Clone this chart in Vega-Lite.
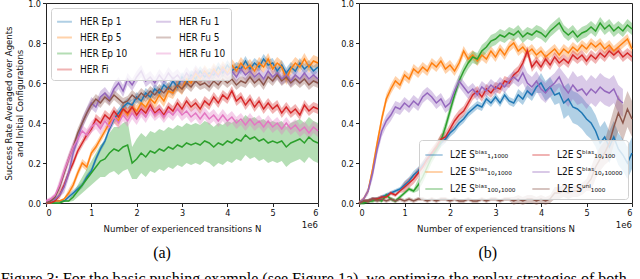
{
"$schema":"https://vega.github.io/schema/vega-lite/v6.json",
"padding":{"left":0,"top":-2,"right":0,"bottom":0},
"config":{
"font":"DejaVu Sans Condensed, DejaVu Sans",
"view":{"stroke":"#222","strokeWidth":1},
"axis":{"grid":false,"domain":false,"labelOverlap":false,"tickCount":12,"tickColor":"#222","tickSize":3.5,"labelColor":"#111","labelFontSize":9,"labelPadding":2,"titleColor":"#111","titleFontSize":9.5,"titleFontWeight":"normal"},
"legend":{"title":null,"symbolType":"stroke","symbolStrokeWidth":2,"labelFontSize":10,"labelColor":"#111","labelOffset":7,"padding":5,"strokeColor":"#d0d0d0","fillColor":"rgba(255,255,255,0.8)","cornerRadius":3,"columns":2,"labelLimit":300}
},
"title":{"text":"Figure 3:  For the basic pushing example (see Figure 1a), we optimize the replay strategies of both","orient":"bottom","anchor":"start","frame":"bounds","font":"Liberation Serif","fontSize":16,"fontWeight":"normal","offset":9,"dx":-2,"color":"black"},
"spacing":18,
"resolve":{"scale":{"color":"independent"},"legend":{"color":"independent"}},
"datasets":{
"a":[
{"s":"E1","x":0,"y":0,"e":0.005},{"s":"E1","x":0.1,"y":0,"e":0.005},{"s":"E1","x":0.2,"y":0.01,"e":0.005},{"s":"E1","x":0.3,"y":0.01,"e":0.005},{"s":"E1","x":0.4,"y":0.01,"e":0.005},{"s":"E1","x":0.5,"y":0.03,"e":0.015},{"s":"E1","x":0.6,"y":0.05,"e":0.015},{"s":"E1","x":0.7,"y":0.07,"e":0.015},{"s":"E1","x":0.8,"y":0.09,"e":0.015},{"s":"E1","x":0.9,"y":0.13,"e":0.015},{"s":"E1","x":1,"y":0.16,"e":0.015},{"s":"E1","x":1.1,"y":0.22,"e":0.015},{"s":"E1","x":1.2,"y":0.27,"e":0.015},{"s":"E1","x":1.3,"y":0.31,"e":0.015},{"s":"E1","x":1.4,"y":0.37,"e":0.015},{"s":"E1","x":1.5,"y":0.42,"e":0.025},{"s":"E1","x":1.6,"y":0.45,"e":0.025},{"s":"E1","x":1.7,"y":0.48,"e":0.025},{"s":"E1","x":1.8,"y":0.5,"e":0.025},{"s":"E1","x":1.9,"y":0.49,"e":0.025},{"s":"E1","x":2,"y":0.53,"e":0.025},{"s":"E1","x":2.1,"y":0.51,"e":0.025},{"s":"E1","x":2.2,"y":0.55,"e":0.025},{"s":"E1","x":2.3,"y":0.53,"e":0.025},{"s":"E1","x":2.4,"y":0.57,"e":0.025},{"s":"E1","x":2.5,"y":0.55,"e":0.025},{"s":"E1","x":2.6,"y":0.59,"e":0.025},{"s":"E1","x":2.7,"y":0.57,"e":0.025},{"s":"E1","x":2.8,"y":0.61,"e":0.025},{"s":"E1","x":2.9,"y":0.58,"e":0.025},{"s":"E1","x":3,"y":0.63,"e":0.025},{"s":"E1","x":3.1,"y":0.6,"e":0.025},{"s":"E1","x":3.2,"y":0.64,"e":0.025},{"s":"E1","x":3.3,"y":0.62,"e":0.025},{"s":"E1","x":3.4,"y":0.66,"e":0.025},{"s":"E1","x":3.5,"y":0.63,"e":0.025},{"s":"E1","x":3.6,"y":0.65,"e":0.025},{"s":"E1","x":3.7,"y":0.64,"e":0.025},{"s":"E1","x":3.8,"y":0.68,"e":0.025},{"s":"E1","x":3.9,"y":0.65,"e":0.025},{"s":"E1","x":4,"y":0.69,"e":0.025},{"s":"E1","x":4.1,"y":0.66,"e":0.025},{"s":"E1","x":4.2,"y":0.68,"e":0.025},{"s":"E1","x":4.3,"y":0.67,"e":0.025},{"s":"E1","x":4.4,"y":0.71,"e":0.025},{"s":"E1","x":4.5,"y":0.67,"e":0.025},{"s":"E1","x":4.6,"y":0.7,"e":0.025},{"s":"E1","x":4.7,"y":0.68,"e":0.025},{"s":"E1","x":4.8,"y":0.72,"e":0.025},{"s":"E1","x":4.9,"y":0.69,"e":0.025},{"s":"E1","x":5,"y":0.7,"e":0.025},{"s":"E1","x":5.1,"y":0.66,"e":0.025},{"s":"E1","x":5.2,"y":0.69,"e":0.025},{"s":"E1","x":5.3,"y":0.65,"e":0.025},{"s":"E1","x":5.4,"y":0.68,"e":0.025},{"s":"E1","x":5.5,"y":0.66,"e":0.025},{"s":"E1","x":5.6,"y":0.7,"e":0.025},{"s":"E1","x":5.7,"y":0.67,"e":0.025},{"s":"E1","x":5.8,"y":0.69,"e":0.025},{"s":"E1","x":5.9,"y":0.66,"e":0.025},{"s":"E1","x":6,"y":0.68,"e":0.025},
{"s":"E5","x":0,"y":0,"e":0.005},{"s":"E5","x":0.1,"y":0,"e":0.005},{"s":"E5","x":0.2,"y":0.01,"e":0.005},{"s":"E5","x":0.3,"y":0.01,"e":0.005},{"s":"E5","x":0.4,"y":0.02,"e":0.005},{"s":"E5","x":0.5,"y":0.05,"e":0.02},{"s":"E5","x":0.6,"y":0.09,"e":0.02},{"s":"E5","x":0.7,"y":0.15,"e":0.02},{"s":"E5","x":0.8,"y":0.2,"e":0.02},{"s":"E5","x":0.9,"y":0.18,"e":0.02},{"s":"E5","x":1,"y":0.25,"e":0.02},{"s":"E5","x":1.1,"y":0.28,"e":0.02},{"s":"E5","x":1.2,"y":0.32,"e":0.02},{"s":"E5","x":1.3,"y":0.36,"e":0.02},{"s":"E5","x":1.4,"y":0.4,"e":0.02},{"s":"E5","x":1.5,"y":0.43,"e":0.03},{"s":"E5","x":1.6,"y":0.41,"e":0.03},{"s":"E5","x":1.7,"y":0.47,"e":0.03},{"s":"E5","x":1.8,"y":0.44,"e":0.03},{"s":"E5","x":1.9,"y":0.48,"e":0.03},{"s":"E5","x":2,"y":0.46,"e":0.03},{"s":"E5","x":2.1,"y":0.5,"e":0.03},{"s":"E5","x":2.2,"y":0.48,"e":0.03},{"s":"E5","x":2.3,"y":0.52,"e":0.03},{"s":"E5","x":2.4,"y":0.5,"e":0.03},{"s":"E5","x":2.5,"y":0.54,"e":0.03},{"s":"E5","x":2.6,"y":0.51,"e":0.03},{"s":"E5","x":2.7,"y":0.56,"e":0.03},{"s":"E5","x":2.8,"y":0.55,"e":0.03},{"s":"E5","x":2.9,"y":0.59,"e":0.03},{"s":"E5","x":3,"y":0.57,"e":0.03},{"s":"E5","x":3.1,"y":0.62,"e":0.03},{"s":"E5","x":3.2,"y":0.6,"e":0.03},{"s":"E5","x":3.3,"y":0.65,"e":0.03},{"s":"E5","x":3.4,"y":0.62,"e":0.03},{"s":"E5","x":3.5,"y":0.66,"e":0.03},{"s":"E5","x":3.6,"y":0.63,"e":0.03},{"s":"E5","x":3.7,"y":0.67,"e":0.03},{"s":"E5","x":3.8,"y":0.64,"e":0.03},{"s":"E5","x":3.9,"y":0.68,"e":0.03},{"s":"E5","x":4,"y":0.65,"e":0.03},{"s":"E5","x":4.1,"y":0.69,"e":0.03},{"s":"E5","x":4.2,"y":0.66,"e":0.03},{"s":"E5","x":4.3,"y":0.7,"e":0.03},{"s":"E5","x":4.4,"y":0.67,"e":0.03},{"s":"E5","x":4.5,"y":0.69,"e":0.03},{"s":"E5","x":4.6,"y":0.66,"e":0.03},{"s":"E5","x":4.7,"y":0.7,"e":0.03},{"s":"E5","x":4.8,"y":0.68,"e":0.03},{"s":"E5","x":4.9,"y":0.72,"e":0.03},{"s":"E5","x":5,"y":0.67,"e":0.03},{"s":"E5","x":5.1,"y":0.7,"e":0.03},{"s":"E5","x":5.2,"y":0.68,"e":0.03},{"s":"E5","x":5.3,"y":0.62,"e":0.03},{"s":"E5","x":5.4,"y":0.67,"e":0.03},{"s":"E5","x":5.5,"y":0.7,"e":0.03},{"s":"E5","x":5.6,"y":0.68,"e":0.03},{"s":"E5","x":5.7,"y":0.72,"e":0.03},{"s":"E5","x":5.8,"y":0.68,"e":0.03},{"s":"E5","x":5.9,"y":0.71,"e":0.03},{"s":"E5","x":6,"y":0.7,"e":0.03},
{"s":"E10","x":0,"y":0,"e":0.005},{"s":"E10","x":0.1,"y":0,"e":0.005},{"s":"E10","x":0.2,"y":0,"e":0.005},{"s":"E10","x":0.3,"y":0,"e":0.005},{"s":"E10","x":0.4,"y":0.01,"e":0.005},{"s":"E10","x":0.5,"y":0.01,"e":0.005},{"s":"E10","x":0.6,"y":0.03,"e":0.02},{"s":"E10","x":0.7,"y":0.06,"e":0.03},{"s":"E10","x":0.8,"y":0.09,"e":0.04},{"s":"E10","x":0.9,"y":0.12,"e":0.05},{"s":"E10","x":1,"y":0.15,"e":0.06},{"s":"E10","x":1.1,"y":0.18,"e":0.07},{"s":"E10","x":1.2,"y":0.21,"e":0.08},{"s":"E10","x":1.3,"y":0.22,"e":0.09},{"s":"E10","x":1.4,"y":0.25,"e":0.1},{"s":"E10","x":1.5,"y":0.27,"e":0.11},{"s":"E10","x":1.6,"y":0.26,"e":0.12},{"s":"E10","x":1.7,"y":0.28,"e":0.12},{"s":"E10","x":1.8,"y":0.29,"e":0.12},{"s":"E10","x":1.9,"y":0.2,"e":0.08},{"s":"E10","x":2,"y":0.22,"e":0.1},{"s":"E10","x":2.1,"y":0.25,"e":0.1},{"s":"E10","x":2.2,"y":0.23,"e":0.1},{"s":"E10","x":2.3,"y":0.26,"e":0.1},{"s":"E10","x":2.4,"y":0.25,"e":0.1},{"s":"E10","x":2.5,"y":0.27,"e":0.1},{"s":"E10","x":2.6,"y":0.26,"e":0.1},{"s":"E10","x":2.7,"y":0.28,"e":0.1},{"s":"E10","x":2.8,"y":0.27,"e":0.1},{"s":"E10","x":2.9,"y":0.29,"e":0.1},{"s":"E10","x":3,"y":0.28,"e":0.1},{"s":"E10","x":3.1,"y":0.3,"e":0.1},{"s":"E10","x":3.2,"y":0.29,"e":0.1},{"s":"E10","x":3.3,"y":0.3,"e":0.1},{"s":"E10","x":3.4,"y":0.29,"e":0.1},{"s":"E10","x":3.5,"y":0.31,"e":0.1},{"s":"E10","x":3.6,"y":0.3,"e":0.1},{"s":"E10","x":3.7,"y":0.28,"e":0.1},{"s":"E10","x":3.8,"y":0.3,"e":0.1},{"s":"E10","x":3.9,"y":0.29,"e":0.1},{"s":"E10","x":4,"y":0.31,"e":0.1},{"s":"E10","x":4.1,"y":0.3,"e":0.1},{"s":"E10","x":4.2,"y":0.32,"e":0.1},{"s":"E10","x":4.3,"y":0.31,"e":0.1},{"s":"E10","x":4.4,"y":0.34,"e":0.1},{"s":"E10","x":4.5,"y":0.32,"e":0.1},{"s":"E10","x":4.6,"y":0.33,"e":0.1},{"s":"E10","x":4.7,"y":0.31,"e":0.1},{"s":"E10","x":4.8,"y":0.32,"e":0.1},{"s":"E10","x":4.9,"y":0.3,"e":0.1},{"s":"E10","x":5,"y":0.31,"e":0.1},{"s":"E10","x":5.1,"y":0.3,"e":0.1},{"s":"E10","x":5.2,"y":0.31,"e":0.1},{"s":"E10","x":5.3,"y":0.28,"e":0.1},{"s":"E10","x":5.4,"y":0.3,"e":0.1},{"s":"E10","x":5.5,"y":0.31,"e":0.1},{"s":"E10","x":5.6,"y":0.32,"e":0.1},{"s":"E10","x":5.7,"y":0.3,"e":0.1},{"s":"E10","x":5.8,"y":0.33,"e":0.1},{"s":"E10","x":5.9,"y":0.31,"e":0.1},{"s":"E10","x":6,"y":0.3,"e":0.1},
{"s":"Fi","x":0,"y":0,"e":0.005},{"s":"Fi","x":0.1,"y":0,"e":0.005},{"s":"Fi","x":0.2,"y":0.01,"e":0.005},{"s":"Fi","x":0.3,"y":0.04,"e":0.02},{"s":"Fi","x":0.4,"y":0.09,"e":0.02},{"s":"Fi","x":0.5,"y":0.15,"e":0.02},{"s":"Fi","x":0.6,"y":0.2,"e":0.02},{"s":"Fi","x":0.7,"y":0.26,"e":0.02},{"s":"Fi","x":0.8,"y":0.3,"e":0.02},{"s":"Fi","x":0.9,"y":0.34,"e":0.02},{"s":"Fi","x":1,"y":0.37,"e":0.02},{"s":"Fi","x":1.1,"y":0.42,"e":0.025},{"s":"Fi","x":1.2,"y":0.4,"e":0.025},{"s":"Fi","x":1.3,"y":0.44,"e":0.025},{"s":"Fi","x":1.4,"y":0.42,"e":0.025},{"s":"Fi","x":1.5,"y":0.46,"e":0.025},{"s":"Fi","x":1.6,"y":0.43,"e":0.025},{"s":"Fi","x":1.7,"y":0.47,"e":0.025},{"s":"Fi","x":1.8,"y":0.45,"e":0.025},{"s":"Fi","x":1.9,"y":0.48,"e":0.025},{"s":"Fi","x":2,"y":0.44,"e":0.025},{"s":"Fi","x":2.1,"y":0.47,"e":0.025},{"s":"Fi","x":2.2,"y":0.45,"e":0.025},{"s":"Fi","x":2.3,"y":0.49,"e":0.025},{"s":"Fi","x":2.4,"y":0.45,"e":0.025},{"s":"Fi","x":2.5,"y":0.47,"e":0.025},{"s":"Fi","x":2.6,"y":0.44,"e":0.025},{"s":"Fi","x":2.7,"y":0.48,"e":0.025},{"s":"Fi","x":2.8,"y":0.46,"e":0.025},{"s":"Fi","x":2.9,"y":0.5,"e":0.025},{"s":"Fi","x":3,"y":0.47,"e":0.025},{"s":"Fi","x":3.1,"y":0.51,"e":0.025},{"s":"Fi","x":3.2,"y":0.48,"e":0.025},{"s":"Fi","x":3.3,"y":0.5,"e":0.025},{"s":"Fi","x":3.4,"y":0.47,"e":0.025},{"s":"Fi","x":3.5,"y":0.51,"e":0.025},{"s":"Fi","x":3.6,"y":0.49,"e":0.025},{"s":"Fi","x":3.7,"y":0.53,"e":0.025},{"s":"Fi","x":3.8,"y":0.5,"e":0.025},{"s":"Fi","x":3.9,"y":0.54,"e":0.025},{"s":"Fi","x":4,"y":0.52,"e":0.025},{"s":"Fi","x":4.1,"y":0.56,"e":0.025},{"s":"Fi","x":4.2,"y":0.51,"e":0.025},{"s":"Fi","x":4.3,"y":0.53,"e":0.025},{"s":"Fi","x":4.4,"y":0.49,"e":0.025},{"s":"Fi","x":4.5,"y":0.52,"e":0.025},{"s":"Fi","x":4.6,"y":0.48,"e":0.025},{"s":"Fi","x":4.7,"y":0.51,"e":0.025},{"s":"Fi","x":4.8,"y":0.47,"e":0.025},{"s":"Fi","x":4.9,"y":0.5,"e":0.025},{"s":"Fi","x":5,"y":0.47,"e":0.025},{"s":"Fi","x":5.1,"y":0.49,"e":0.025},{"s":"Fi","x":5.2,"y":0.45,"e":0.025},{"s":"Fi","x":5.3,"y":0.48,"e":0.025},{"s":"Fi","x":5.4,"y":0.45,"e":0.025},{"s":"Fi","x":5.5,"y":0.47,"e":0.025},{"s":"Fi","x":5.6,"y":0.44,"e":0.025},{"s":"Fi","x":5.7,"y":0.49,"e":0.025},{"s":"Fi","x":5.8,"y":0.46,"e":0.025},{"s":"Fi","x":5.9,"y":0.48,"e":0.025},{"s":"Fi","x":6,"y":0.47,"e":0.025},
{"s":"F1","x":0,"y":0,"e":0.01},{"s":"F1","x":0.1,"y":0.01,"e":0.01},{"s":"F1","x":0.2,"y":0.02,"e":0.01},{"s":"F1","x":0.3,"y":0.04,"e":0.01},{"s":"F1","x":0.4,"y":0.08,"e":0.03},{"s":"F1","x":0.5,"y":0.15,"e":0.03},{"s":"F1","x":0.6,"y":0.25,"e":0.03},{"s":"F1","x":0.7,"y":0.32,"e":0.03},{"s":"F1","x":0.8,"y":0.4,"e":0.03},{"s":"F1","x":0.9,"y":0.45,"e":0.03},{"s":"F1","x":1,"y":0.5,"e":0.03},{"s":"F1","x":1.1,"y":0.48,"e":0.03},{"s":"F1","x":1.2,"y":0.53,"e":0.03},{"s":"F1","x":1.3,"y":0.55,"e":0.03},{"s":"F1","x":1.4,"y":0.52,"e":0.03},{"s":"F1","x":1.5,"y":0.57,"e":0.03},{"s":"F1","x":1.6,"y":0.6,"e":0.03},{"s":"F1","x":1.7,"y":0.56,"e":0.03},{"s":"F1","x":1.8,"y":0.62,"e":0.03},{"s":"F1","x":1.9,"y":0.59,"e":0.03},{"s":"F1","x":2,"y":0.63,"e":0.03},{"s":"F1","x":2.1,"y":0.66,"e":0.03},{"s":"F1","x":2.2,"y":0.61,"e":0.03},{"s":"F1","x":2.3,"y":0.63,"e":0.03},{"s":"F1","x":2.4,"y":0.6,"e":0.03},{"s":"F1","x":2.5,"y":0.64,"e":0.03},{"s":"F1","x":2.6,"y":0.61,"e":0.03},{"s":"F1","x":2.7,"y":0.65,"e":0.03},{"s":"F1","x":2.8,"y":0.62,"e":0.03},{"s":"F1","x":2.9,"y":0.64,"e":0.03},{"s":"F1","x":3,"y":0.61,"e":0.03},{"s":"F1","x":3.1,"y":0.65,"e":0.03},{"s":"F1","x":3.2,"y":0.62,"e":0.03},{"s":"F1","x":3.3,"y":0.66,"e":0.03},{"s":"F1","x":3.4,"y":0.63,"e":0.03},{"s":"F1","x":3.5,"y":0.65,"e":0.03},{"s":"F1","x":3.6,"y":0.62,"e":0.03},{"s":"F1","x":3.7,"y":0.66,"e":0.03},{"s":"F1","x":3.8,"y":0.63,"e":0.03},{"s":"F1","x":3.9,"y":0.67,"e":0.03},{"s":"F1","x":4,"y":0.64,"e":0.03},{"s":"F1","x":4.1,"y":0.66,"e":0.03},{"s":"F1","x":4.2,"y":0.63,"e":0.03},{"s":"F1","x":4.3,"y":0.67,"e":0.03},{"s":"F1","x":4.4,"y":0.64,"e":0.03},{"s":"F1","x":4.5,"y":0.66,"e":0.03},{"s":"F1","x":4.6,"y":0.63,"e":0.03},{"s":"F1","x":4.7,"y":0.65,"e":0.03},{"s":"F1","x":4.8,"y":0.62,"e":0.03},{"s":"F1","x":4.9,"y":0.66,"e":0.03},{"s":"F1","x":5,"y":0.63,"e":0.03},{"s":"F1","x":5.1,"y":0.65,"e":0.03},{"s":"F1","x":5.2,"y":0.62,"e":0.03},{"s":"F1","x":5.3,"y":0.64,"e":0.03},{"s":"F1","x":5.4,"y":0.61,"e":0.03},{"s":"F1","x":5.5,"y":0.64,"e":0.03},{"s":"F1","x":5.6,"y":0.62,"e":0.03},{"s":"F1","x":5.7,"y":0.65,"e":0.03},{"s":"F1","x":5.8,"y":0.62,"e":0.03},{"s":"F1","x":5.9,"y":0.64,"e":0.03},{"s":"F1","x":6,"y":0.62,"e":0.03},
{"s":"F5","x":0,"y":0,"e":0.01},{"s":"F5","x":0.1,"y":0.01,"e":0.01},{"s":"F5","x":0.2,"y":0.03,"e":0.01},{"s":"F5","x":0.3,"y":0.08,"e":0.025},{"s":"F5","x":0.4,"y":0.15,"e":0.025},{"s":"F5","x":0.5,"y":0.22,"e":0.025},{"s":"F5","x":0.6,"y":0.28,"e":0.025},{"s":"F5","x":0.7,"y":0.35,"e":0.025},{"s":"F5","x":0.8,"y":0.4,"e":0.025},{"s":"F5","x":0.9,"y":0.45,"e":0.025},{"s":"F5","x":1,"y":0.49,"e":0.025},{"s":"F5","x":1.1,"y":0.52,"e":0.025},{"s":"F5","x":1.2,"y":0.5,"e":0.025},{"s":"F5","x":1.3,"y":0.53,"e":0.025},{"s":"F5","x":1.4,"y":0.51,"e":0.025},{"s":"F5","x":1.5,"y":0.54,"e":0.025},{"s":"F5","x":1.6,"y":0.52,"e":0.025},{"s":"F5","x":1.7,"y":0.5,"e":0.025},{"s":"F5","x":1.8,"y":0.51,"e":0.025},{"s":"F5","x":1.9,"y":0.54,"e":0.025},{"s":"F5","x":2,"y":0.52,"e":0.025},{"s":"F5","x":2.1,"y":0.55,"e":0.025},{"s":"F5","x":2.2,"y":0.53,"e":0.025},{"s":"F5","x":2.3,"y":0.56,"e":0.025},{"s":"F5","x":2.4,"y":0.54,"e":0.025},{"s":"F5","x":2.5,"y":0.57,"e":0.025},{"s":"F5","x":2.6,"y":0.55,"e":0.025},{"s":"F5","x":2.7,"y":0.58,"e":0.025},{"s":"F5","x":2.8,"y":0.56,"e":0.025},{"s":"F5","x":2.9,"y":0.59,"e":0.025},{"s":"F5","x":3,"y":0.57,"e":0.025},{"s":"F5","x":3.1,"y":0.6,"e":0.025},{"s":"F5","x":3.2,"y":0.58,"e":0.025},{"s":"F5","x":3.3,"y":0.61,"e":0.025},{"s":"F5","x":3.4,"y":0.59,"e":0.025},{"s":"F5","x":3.5,"y":0.6,"e":0.025},{"s":"F5","x":3.6,"y":0.58,"e":0.025},{"s":"F5","x":3.7,"y":0.61,"e":0.025},{"s":"F5","x":3.8,"y":0.59,"e":0.025},{"s":"F5","x":3.9,"y":0.62,"e":0.025},{"s":"F5","x":4,"y":0.6,"e":0.025},{"s":"F5","x":4.1,"y":0.62,"e":0.025},{"s":"F5","x":4.2,"y":0.59,"e":0.025},{"s":"F5","x":4.3,"y":0.61,"e":0.025},{"s":"F5","x":4.4,"y":0.6,"e":0.025},{"s":"F5","x":4.5,"y":0.63,"e":0.025},{"s":"F5","x":4.6,"y":0.6,"e":0.025},{"s":"F5","x":4.7,"y":0.62,"e":0.025},{"s":"F5","x":4.8,"y":0.59,"e":0.025},{"s":"F5","x":4.9,"y":0.63,"e":0.025},{"s":"F5","x":5,"y":0.61,"e":0.025},{"s":"F5","x":5.1,"y":0.64,"e":0.025},{"s":"F5","x":5.2,"y":0.61,"e":0.025},{"s":"F5","x":5.3,"y":0.63,"e":0.025},{"s":"F5","x":5.4,"y":0.6,"e":0.025},{"s":"F5","x":5.5,"y":0.62,"e":0.025},{"s":"F5","x":5.6,"y":0.6,"e":0.025},{"s":"F5","x":5.7,"y":0.62,"e":0.025},{"s":"F5","x":5.8,"y":0.59,"e":0.025},{"s":"F5","x":5.9,"y":0.61,"e":0.025},{"s":"F5","x":6,"y":0.6,"e":0.025},
{"s":"F10","x":0,"y":0.01,"e":0.01},{"s":"F10","x":0.1,"y":0.02,"e":0.01},{"s":"F10","x":0.2,"y":0.04,"e":0.01},{"s":"F10","x":0.3,"y":0.09,"e":0.03},{"s":"F10","x":0.4,"y":0.16,"e":0.03},{"s":"F10","x":0.5,"y":0.22,"e":0.03},{"s":"F10","x":0.6,"y":0.28,"e":0.03},{"s":"F10","x":0.7,"y":0.32,"e":0.03},{"s":"F10","x":0.8,"y":0.36,"e":0.03},{"s":"F10","x":0.9,"y":0.34,"e":0.03},{"s":"F10","x":1,"y":0.38,"e":0.03},{"s":"F10","x":1.1,"y":0.4,"e":0.03},{"s":"F10","x":1.2,"y":0.37,"e":0.03},{"s":"F10","x":1.3,"y":0.41,"e":0.03},{"s":"F10","x":1.4,"y":0.38,"e":0.03},{"s":"F10","x":1.5,"y":0.43,"e":0.03},{"s":"F10","x":1.6,"y":0.4,"e":0.03},{"s":"F10","x":1.7,"y":0.44,"e":0.03},{"s":"F10","x":1.8,"y":0.41,"e":0.03},{"s":"F10","x":1.9,"y":0.45,"e":0.03},{"s":"F10","x":2,"y":0.42,"e":0.03},{"s":"F10","x":2.1,"y":0.46,"e":0.03},{"s":"F10","x":2.2,"y":0.43,"e":0.03},{"s":"F10","x":2.3,"y":0.47,"e":0.03},{"s":"F10","x":2.4,"y":0.44,"e":0.03},{"s":"F10","x":2.5,"y":0.46,"e":0.03},{"s":"F10","x":2.6,"y":0.43,"e":0.03},{"s":"F10","x":2.7,"y":0.46,"e":0.03},{"s":"F10","x":2.8,"y":0.44,"e":0.03},{"s":"F10","x":2.9,"y":0.47,"e":0.03},{"s":"F10","x":3,"y":0.44,"e":0.03},{"s":"F10","x":3.1,"y":0.46,"e":0.03},{"s":"F10","x":3.2,"y":0.43,"e":0.03},{"s":"F10","x":3.3,"y":0.45,"e":0.03},{"s":"F10","x":3.4,"y":0.42,"e":0.03},{"s":"F10","x":3.5,"y":0.45,"e":0.03},{"s":"F10","x":3.6,"y":0.42,"e":0.03},{"s":"F10","x":3.7,"y":0.44,"e":0.03},{"s":"F10","x":3.8,"y":0.41,"e":0.03},{"s":"F10","x":3.9,"y":0.44,"e":0.03},{"s":"F10","x":4,"y":0.41,"e":0.03},{"s":"F10","x":4.1,"y":0.43,"e":0.03},{"s":"F10","x":4.2,"y":0.4,"e":0.03},{"s":"F10","x":4.3,"y":0.42,"e":0.03},{"s":"F10","x":4.4,"y":0.39,"e":0.03},{"s":"F10","x":4.5,"y":0.42,"e":0.03},{"s":"F10","x":4.6,"y":0.39,"e":0.03},{"s":"F10","x":4.7,"y":0.41,"e":0.03},{"s":"F10","x":4.8,"y":0.38,"e":0.03},{"s":"F10","x":4.9,"y":0.41,"e":0.03},{"s":"F10","x":5,"y":0.38,"e":0.03},{"s":"F10","x":5.1,"y":0.4,"e":0.03},{"s":"F10","x":5.2,"y":0.37,"e":0.03},{"s":"F10","x":5.3,"y":0.4,"e":0.03},{"s":"F10","x":5.4,"y":0.37,"e":0.03},{"s":"F10","x":5.5,"y":0.39,"e":0.03},{"s":"F10","x":5.6,"y":0.36,"e":0.03},{"s":"F10","x":5.7,"y":0.38,"e":0.03},{"s":"F10","x":5.8,"y":0.35,"e":0.03},{"s":"F10","x":5.9,"y":0.38,"e":0.03},{"s":"F10","x":6,"y":0.36,"e":0.03}
],
"b":[
{"s":"B1","x":0,"y":0,"e":0.01},{"s":"B1","x":0.1,"y":0.01,"e":0.01},{"s":"B1","x":0.2,"y":0.01,"e":0.01},{"s":"B1","x":0.3,"y":0.02,"e":0.01},{"s":"B1","x":0.4,"y":0.02,"e":0.01},{"s":"B1","x":0.5,"y":0.03,"e":0.01},{"s":"B1","x":0.6,"y":0.04,"e":0.01},{"s":"B1","x":0.7,"y":0.05,"e":0.01},{"s":"B1","x":0.8,"y":0.06,"e":0.01},{"s":"B1","x":0.9,"y":0.07,"e":0.01},{"s":"B1","x":1,"y":0.09,"e":0.02},{"s":"B1","x":1.1,"y":0.11,"e":0.02},{"s":"B1","x":1.2,"y":0.14,"e":0.02},{"s":"B1","x":1.3,"y":0.16,"e":0.02},{"s":"B1","x":1.4,"y":0.19,"e":0.02},{"s":"B1","x":1.5,"y":0.22,"e":0.02},{"s":"B1","x":1.6,"y":0.24,"e":0.02},{"s":"B1","x":1.7,"y":0.27,"e":0.02},{"s":"B1","x":1.8,"y":0.3,"e":0.02},{"s":"B1","x":1.9,"y":0.32,"e":0.02},{"s":"B1","x":2,"y":0.35,"e":0.02},{"s":"B1","x":2.1,"y":0.37,"e":0.02},{"s":"B1","x":2.2,"y":0.4,"e":0.02},{"s":"B1","x":2.3,"y":0.42,"e":0.02},{"s":"B1","x":2.4,"y":0.45,"e":0.02},{"s":"B1","x":2.5,"y":0.47,"e":0.02},{"s":"B1","x":2.6,"y":0.49,"e":0.02},{"s":"B1","x":2.7,"y":0.48,"e":0.02},{"s":"B1","x":2.8,"y":0.52,"e":0.02},{"s":"B1","x":2.9,"y":0.5,"e":0.02},{"s":"B1","x":3,"y":0.53,"e":0.02},{"s":"B1","x":3.1,"y":0.5,"e":0.02},{"s":"B1","x":3.2,"y":0.54,"e":0.02},{"s":"B1","x":3.3,"y":0.51,"e":0.02},{"s":"B1","x":3.4,"y":0.5,"e":0.02},{"s":"B1","x":3.5,"y":0.54,"e":0.03},{"s":"B1","x":3.6,"y":0.52,"e":0.03},{"s":"B1","x":3.7,"y":0.56,"e":0.03},{"s":"B1","x":3.8,"y":0.54,"e":0.03},{"s":"B1","x":3.9,"y":0.58,"e":0.03},{"s":"B1","x":4,"y":0.6,"e":0.05},{"s":"B1","x":4.1,"y":0.56,"e":0.05},{"s":"B1","x":4.2,"y":0.58,"e":0.05},{"s":"B1","x":4.3,"y":0.54,"e":0.05},{"s":"B1","x":4.4,"y":0.55,"e":0.05},{"s":"B1","x":4.5,"y":0.5,"e":0.08},{"s":"B1","x":4.6,"y":0.52,"e":0.08},{"s":"B1","x":4.7,"y":0.48,"e":0.08},{"s":"B1","x":4.8,"y":0.47,"e":0.08},{"s":"B1","x":4.9,"y":0.45,"e":0.08},{"s":"B1","x":5,"y":0.42,"e":0.08},{"s":"B1","x":5.1,"y":0.4,"e":0.08},{"s":"B1","x":5.2,"y":0.36,"e":0.08},{"s":"B1","x":5.3,"y":0.3,"e":0.08},{"s":"B1","x":5.4,"y":0.33,"e":0.08},{"s":"B1","x":5.5,"y":0.28,"e":0.08},{"s":"B1","x":5.6,"y":0.33,"e":0.08},{"s":"B1","x":5.7,"y":0.27,"e":0.08},{"s":"B1","x":5.8,"y":0.24,"e":0.08},{"s":"B1","x":5.9,"y":0.2,"e":0.08},{"s":"B1","x":6,"y":0.25,"e":0.08},
{"s":"B2","x":0,"y":0,"e":0.01},{"s":"B2","x":0.1,"y":0.02,"e":0.01},{"s":"B2","x":0.2,"y":0.06,"e":0.01},{"s":"B2","x":0.3,"y":0.17,"e":0.025},{"s":"B2","x":0.4,"y":0.3,"e":0.025},{"s":"B2","x":0.5,"y":0.42,"e":0.025},{"s":"B2","x":0.6,"y":0.52,"e":0.025},{"s":"B2","x":0.7,"y":0.57,"e":0.025},{"s":"B2","x":0.8,"y":0.61,"e":0.025},{"s":"B2","x":0.9,"y":0.59,"e":0.025},{"s":"B2","x":1,"y":0.64,"e":0.025},{"s":"B2","x":1.1,"y":0.62,"e":0.025},{"s":"B2","x":1.2,"y":0.67,"e":0.025},{"s":"B2","x":1.3,"y":0.65,"e":0.025},{"s":"B2","x":1.4,"y":0.68,"e":0.025},{"s":"B2","x":1.5,"y":0.66,"e":0.025},{"s":"B2","x":1.6,"y":0.7,"e":0.025},{"s":"B2","x":1.7,"y":0.68,"e":0.025},{"s":"B2","x":1.8,"y":0.71,"e":0.025},{"s":"B2","x":1.9,"y":0.67,"e":0.025},{"s":"B2","x":2,"y":0.69,"e":0.025},{"s":"B2","x":2.1,"y":0.66,"e":0.025},{"s":"B2","x":2.2,"y":0.7,"e":0.025},{"s":"B2","x":2.3,"y":0.76,"e":0.025},{"s":"B2","x":2.4,"y":0.72,"e":0.025},{"s":"B2","x":2.5,"y":0.74,"e":0.025},{"s":"B2","x":2.6,"y":0.71,"e":0.025},{"s":"B2","x":2.7,"y":0.74,"e":0.025},{"s":"B2","x":2.8,"y":0.72,"e":0.025},{"s":"B2","x":2.9,"y":0.76,"e":0.025},{"s":"B2","x":3,"y":0.73,"e":0.025},{"s":"B2","x":3.1,"y":0.77,"e":0.025},{"s":"B2","x":3.2,"y":0.74,"e":0.025},{"s":"B2","x":3.3,"y":0.78,"e":0.025},{"s":"B2","x":3.4,"y":0.8,"e":0.025},{"s":"B2","x":3.5,"y":0.76,"e":0.025},{"s":"B2","x":3.6,"y":0.78,"e":0.025},{"s":"B2","x":3.7,"y":0.75,"e":0.025},{"s":"B2","x":3.8,"y":0.77,"e":0.025},{"s":"B2","x":3.9,"y":0.74,"e":0.025},{"s":"B2","x":4,"y":0.76,"e":0.025},{"s":"B2","x":4.1,"y":0.73,"e":0.025},{"s":"B2","x":4.2,"y":0.75,"e":0.025},{"s":"B2","x":4.3,"y":0.77,"e":0.025},{"s":"B2","x":4.4,"y":0.74,"e":0.025},{"s":"B2","x":4.5,"y":0.77,"e":0.025},{"s":"B2","x":4.6,"y":0.75,"e":0.025},{"s":"B2","x":4.7,"y":0.78,"e":0.025},{"s":"B2","x":4.8,"y":0.76,"e":0.025},{"s":"B2","x":4.9,"y":0.79,"e":0.025},{"s":"B2","x":5,"y":0.77,"e":0.025},{"s":"B2","x":5.1,"y":0.8,"e":0.025},{"s":"B2","x":5.2,"y":0.78,"e":0.025},{"s":"B2","x":5.3,"y":0.8,"e":0.025},{"s":"B2","x":5.4,"y":0.77,"e":0.025},{"s":"B2","x":5.5,"y":0.79,"e":0.025},{"s":"B2","x":5.6,"y":0.76,"e":0.025},{"s":"B2","x":5.7,"y":0.78,"e":0.025},{"s":"B2","x":5.8,"y":0.8,"e":0.025},{"s":"B2","x":5.9,"y":0.82,"e":0.025},{"s":"B2","x":6,"y":0.77,"e":0.025},
{"s":"B3","x":0,"y":0,"e":0.01},{"s":"B3","x":0.1,"y":0,"e":0.01},{"s":"B3","x":0.2,"y":0.01,"e":0.01},{"s":"B3","x":0.3,"y":0.01,"e":0.01},{"s":"B3","x":0.4,"y":0.02,"e":0.01},{"s":"B3","x":0.5,"y":0.01,"e":0.01},{"s":"B3","x":0.6,"y":0.04,"e":0.01},{"s":"B3","x":0.7,"y":0.02,"e":0.01},{"s":"B3","x":0.8,"y":0.01,"e":0.01},{"s":"B3","x":0.9,"y":0.03,"e":0.01},{"s":"B3","x":1,"y":0.05,"e":0.01},{"s":"B3","x":1.1,"y":0.07,"e":0.01},{"s":"B3","x":1.2,"y":0.06,"e":0.01},{"s":"B3","x":1.3,"y":0.09,"e":0.03},{"s":"B3","x":1.4,"y":0.13,"e":0.03},{"s":"B3","x":1.5,"y":0.18,"e":0.03},{"s":"B3","x":1.6,"y":0.23,"e":0.03},{"s":"B3","x":1.7,"y":0.27,"e":0.03},{"s":"B3","x":1.8,"y":0.31,"e":0.03},{"s":"B3","x":1.9,"y":0.38,"e":0.03},{"s":"B3","x":2,"y":0.46,"e":0.03},{"s":"B3","x":2.1,"y":0.54,"e":0.03},{"s":"B3","x":2.2,"y":0.61,"e":0.03},{"s":"B3","x":2.3,"y":0.66,"e":0.03},{"s":"B3","x":2.4,"y":0.7,"e":0.03},{"s":"B3","x":2.5,"y":0.73,"e":0.03},{"s":"B3","x":2.6,"y":0.72,"e":0.03},{"s":"B3","x":2.7,"y":0.76,"e":0.03},{"s":"B3","x":2.8,"y":0.78,"e":0.03},{"s":"B3","x":2.9,"y":0.81,"e":0.03},{"s":"B3","x":3,"y":0.82,"e":0.03},{"s":"B3","x":3.1,"y":0.84,"e":0.03},{"s":"B3","x":3.2,"y":0.83,"e":0.03},{"s":"B3","x":3.3,"y":0.85,"e":0.03},{"s":"B3","x":3.4,"y":0.84,"e":0.03},{"s":"B3","x":3.5,"y":0.86,"e":0.03},{"s":"B3","x":3.6,"y":0.83,"e":0.03},{"s":"B3","x":3.7,"y":0.85,"e":0.03},{"s":"B3","x":3.8,"y":0.84,"e":0.03},{"s":"B3","x":3.9,"y":0.86,"e":0.03},{"s":"B3","x":4,"y":0.85,"e":0.03},{"s":"B3","x":4.1,"y":0.83,"e":0.03},{"s":"B3","x":4.2,"y":0.86,"e":0.03},{"s":"B3","x":4.3,"y":0.88,"e":0.03},{"s":"B3","x":4.4,"y":0.9,"e":0.03},{"s":"B3","x":4.5,"y":0.86,"e":0.03},{"s":"B3","x":4.6,"y":0.84,"e":0.03},{"s":"B3","x":4.7,"y":0.86,"e":0.03},{"s":"B3","x":4.8,"y":0.83,"e":0.03},{"s":"B3","x":4.9,"y":0.85,"e":0.03},{"s":"B3","x":5,"y":0.86,"e":0.03},{"s":"B3","x":5.1,"y":0.88,"e":0.03},{"s":"B3","x":5.2,"y":0.86,"e":0.03},{"s":"B3","x":5.3,"y":0.9,"e":0.03},{"s":"B3","x":5.4,"y":0.87,"e":0.03},{"s":"B3","x":5.5,"y":0.89,"e":0.03},{"s":"B3","x":5.6,"y":0.86,"e":0.03},{"s":"B3","x":5.7,"y":0.88,"e":0.03},{"s":"B3","x":5.8,"y":0.86,"e":0.03},{"s":"B3","x":5.9,"y":0.89,"e":0.03},{"s":"B3","x":6,"y":0.87,"e":0.03},
{"s":"B4","x":0,"y":0,"e":0.01},{"s":"B4","x":0.1,"y":0.01,"e":0.01},{"s":"B4","x":0.2,"y":0.01,"e":0.01},{"s":"B4","x":0.3,"y":0.02,"e":0.01},{"s":"B4","x":0.4,"y":0.02,"e":0.01},{"s":"B4","x":0.5,"y":0.03,"e":0.01},{"s":"B4","x":0.6,"y":0.03,"e":0.01},{"s":"B4","x":0.7,"y":0.05,"e":0.01},{"s":"B4","x":0.8,"y":0.04,"e":0.01},{"s":"B4","x":0.9,"y":0.06,"e":0.01},{"s":"B4","x":1,"y":0.08,"e":0.025},{"s":"B4","x":1.1,"y":0.1,"e":0.025},{"s":"B4","x":1.2,"y":0.12,"e":0.025},{"s":"B4","x":1.3,"y":0.15,"e":0.025},{"s":"B4","x":1.4,"y":0.18,"e":0.025},{"s":"B4","x":1.5,"y":0.22,"e":0.025},{"s":"B4","x":1.6,"y":0.25,"e":0.025},{"s":"B4","x":1.7,"y":0.28,"e":0.025},{"s":"B4","x":1.8,"y":0.32,"e":0.025},{"s":"B4","x":1.9,"y":0.33,"e":0.025},{"s":"B4","x":2,"y":0.37,"e":0.025},{"s":"B4","x":2.1,"y":0.41,"e":0.025},{"s":"B4","x":2.2,"y":0.44,"e":0.025},{"s":"B4","x":2.3,"y":0.46,"e":0.025},{"s":"B4","x":2.4,"y":0.5,"e":0.025},{"s":"B4","x":2.5,"y":0.54,"e":0.025},{"s":"B4","x":2.6,"y":0.56,"e":0.025},{"s":"B4","x":2.7,"y":0.53,"e":0.025},{"s":"B4","x":2.8,"y":0.57,"e":0.025},{"s":"B4","x":2.9,"y":0.55,"e":0.025},{"s":"B4","x":3,"y":0.58,"e":0.025},{"s":"B4","x":3.1,"y":0.57,"e":0.025},{"s":"B4","x":3.2,"y":0.61,"e":0.025},{"s":"B4","x":3.3,"y":0.6,"e":0.025},{"s":"B4","x":3.4,"y":0.64,"e":0.025},{"s":"B4","x":3.5,"y":0.66,"e":0.025},{"s":"B4","x":3.6,"y":0.7,"e":0.025},{"s":"B4","x":3.7,"y":0.76,"e":0.025},{"s":"B4","x":3.8,"y":0.68,"e":0.025},{"s":"B4","x":3.9,"y":0.71,"e":0.025},{"s":"B4","x":4,"y":0.68,"e":0.025},{"s":"B4","x":4.1,"y":0.72,"e":0.025},{"s":"B4","x":4.2,"y":0.69,"e":0.025},{"s":"B4","x":4.3,"y":0.73,"e":0.025},{"s":"B4","x":4.4,"y":0.7,"e":0.025},{"s":"B4","x":4.5,"y":0.72,"e":0.025},{"s":"B4","x":4.6,"y":0.7,"e":0.025},{"s":"B4","x":4.7,"y":0.74,"e":0.025},{"s":"B4","x":4.8,"y":0.72,"e":0.025},{"s":"B4","x":4.9,"y":0.74,"e":0.025},{"s":"B4","x":5,"y":0.71,"e":0.025},{"s":"B4","x":5.1,"y":0.74,"e":0.025},{"s":"B4","x":5.2,"y":0.72,"e":0.025},{"s":"B4","x":5.3,"y":0.75,"e":0.025},{"s":"B4","x":5.4,"y":0.73,"e":0.025},{"s":"B4","x":5.5,"y":0.76,"e":0.025},{"s":"B4","x":5.6,"y":0.74,"e":0.025},{"s":"B4","x":5.7,"y":0.76,"e":0.025},{"s":"B4","x":5.8,"y":0.73,"e":0.025},{"s":"B4","x":5.9,"y":0.75,"e":0.025},{"s":"B4","x":6,"y":0.73,"e":0.025},
{"s":"B5","x":0,"y":0,"e":0.01},{"s":"B5","x":0.1,"y":0.02,"e":0.01},{"s":"B5","x":0.2,"y":0.06,"e":0.02},{"s":"B5","x":0.3,"y":0.15,"e":0.03},{"s":"B5","x":0.4,"y":0.27,"e":0.03},{"s":"B5","x":0.5,"y":0.36,"e":0.03},{"s":"B5","x":0.6,"y":0.41,"e":0.03},{"s":"B5","x":0.7,"y":0.44,"e":0.03},{"s":"B5","x":0.8,"y":0.48,"e":0.03},{"s":"B5","x":0.9,"y":0.47,"e":0.03},{"s":"B5","x":1,"y":0.5,"e":0.03},{"s":"B5","x":1.1,"y":0.48,"e":0.03},{"s":"B5","x":1.2,"y":0.51,"e":0.03},{"s":"B5","x":1.3,"y":0.49,"e":0.03},{"s":"B5","x":1.4,"y":0.53,"e":0.03},{"s":"B5","x":1.5,"y":0.55,"e":0.03},{"s":"B5","x":1.6,"y":0.53,"e":0.03},{"s":"B5","x":1.7,"y":0.5,"e":0.03},{"s":"B5","x":1.8,"y":0.52,"e":0.03},{"s":"B5","x":1.9,"y":0.48,"e":0.03},{"s":"B5","x":2,"y":0.5,"e":0.03},{"s":"B5","x":2.1,"y":0.56,"e":0.03},{"s":"B5","x":2.2,"y":0.61,"e":0.03},{"s":"B5","x":2.3,"y":0.58,"e":0.03},{"s":"B5","x":2.4,"y":0.55,"e":0.03},{"s":"B5","x":2.5,"y":0.57,"e":0.03},{"s":"B5","x":2.6,"y":0.54,"e":0.03},{"s":"B5","x":2.7,"y":0.58,"e":0.03},{"s":"B5","x":2.8,"y":0.56,"e":0.03},{"s":"B5","x":2.9,"y":0.59,"e":0.03},{"s":"B5","x":3,"y":0.57,"e":0.03},{"s":"B5","x":3.1,"y":0.6,"e":0.03},{"s":"B5","x":3.2,"y":0.58,"e":0.03},{"s":"B5","x":3.3,"y":0.61,"e":0.03},{"s":"B5","x":3.4,"y":0.63,"e":0.03},{"s":"B5","x":3.5,"y":0.61,"e":0.03},{"s":"B5","x":3.6,"y":0.65,"e":0.05},{"s":"B5","x":3.7,"y":0.6,"e":0.05},{"s":"B5","x":3.8,"y":0.58,"e":0.05},{"s":"B5","x":3.9,"y":0.61,"e":0.05},{"s":"B5","x":4,"y":0.57,"e":0.05},{"s":"B5","x":4.1,"y":0.55,"e":0.05},{"s":"B5","x":4.2,"y":0.58,"e":0.05},{"s":"B5","x":4.3,"y":0.6,"e":0.05},{"s":"B5","x":4.4,"y":0.63,"e":0.05},{"s":"B5","x":4.5,"y":0.58,"e":0.07},{"s":"B5","x":4.6,"y":0.55,"e":0.07},{"s":"B5","x":4.7,"y":0.59,"e":0.07},{"s":"B5","x":4.8,"y":0.56,"e":0.07},{"s":"B5","x":4.9,"y":0.57,"e":0.07},{"s":"B5","x":5,"y":0.54,"e":0.07},{"s":"B5","x":5.1,"y":0.57,"e":0.07},{"s":"B5","x":5.2,"y":0.55,"e":0.07},{"s":"B5","x":5.3,"y":0.58,"e":0.07},{"s":"B5","x":5.4,"y":0.56,"e":0.07},{"s":"B5","x":5.5,"y":0.55,"e":0.07},{"s":"B5","x":5.6,"y":0.57,"e":0.07},{"s":"B5","x":5.7,"y":0.52,"e":0.07},{"s":"B5","x":5.8,"y":0.5,"e":0.07},
{"s":"B6","x":0,"y":0,"e":0.01},{"s":"B6","x":0.1,"y":0.01,"e":0.01},{"s":"B6","x":0.2,"y":0.01,"e":0.01},{"s":"B6","x":0.3,"y":0.02,"e":0.01},{"s":"B6","x":0.4,"y":0.01,"e":0.01},{"s":"B6","x":0.5,"y":0.02,"e":0.01},{"s":"B6","x":0.6,"y":0.01,"e":0.01},{"s":"B6","x":0.7,"y":0.02,"e":0.01},{"s":"B6","x":0.8,"y":0.01,"e":0.01},{"s":"B6","x":0.9,"y":0.02,"e":0.01},{"s":"B6","x":1,"y":0.01,"e":0.01},{"s":"B6","x":1.1,"y":0.02,"e":0.01},{"s":"B6","x":1.2,"y":0.01,"e":0.01},{"s":"B6","x":1.3,"y":0.02,"e":0.01},{"s":"B6","x":1.4,"y":0.02,"e":0.01},{"s":"B6","x":1.5,"y":0.01,"e":0.01},{"s":"B6","x":1.6,"y":0.02,"e":0.01},{"s":"B6","x":1.7,"y":0.01,"e":0.01},{"s":"B6","x":1.8,"y":0.02,"e":0.01},{"s":"B6","x":1.9,"y":0.02,"e":0.01},{"s":"B6","x":2,"y":0.01,"e":0.01},{"s":"B6","x":2.1,"y":0.02,"e":0.01},{"s":"B6","x":2.2,"y":0.01,"e":0.01},{"s":"B6","x":2.3,"y":0.01,"e":0.01},{"s":"B6","x":2.4,"y":0.02,"e":0.01},{"s":"B6","x":2.5,"y":0.01,"e":0.01},{"s":"B6","x":2.6,"y":0.01,"e":0.01},{"s":"B6","x":2.7,"y":0.02,"e":0.01},{"s":"B6","x":2.8,"y":0.01,"e":0.01},{"s":"B6","x":2.9,"y":0.02,"e":0.01},{"s":"B6","x":3,"y":0.02,"e":0.01},{"s":"B6","x":3.1,"y":0.01,"e":0.01},{"s":"B6","x":3.2,"y":0.02,"e":0.01},{"s":"B6","x":3.3,"y":0.02,"e":0.01},{"s":"B6","x":3.4,"y":0.01,"e":0.02},{"s":"B6","x":3.5,"y":0.02,"e":0.02},{"s":"B6","x":3.6,"y":0.01,"e":0.02},{"s":"B6","x":3.7,"y":0.02,"e":0.02},{"s":"B6","x":3.8,"y":0.02,"e":0.02},{"s":"B6","x":3.9,"y":0.01,"e":0.02},{"s":"B6","x":4,"y":0.02,"e":0.02},{"s":"B6","x":4.1,"y":0.01,"e":0.02},{"s":"B6","x":4.2,"y":0.02,"e":0.02},{"s":"B6","x":4.3,"y":0.05,"e":0.03},{"s":"B6","x":4.4,"y":0.05,"e":0.03},{"s":"B6","x":4.5,"y":0.06,"e":0.03},{"s":"B6","x":4.6,"y":0.05,"e":0.03},{"s":"B6","x":4.7,"y":0.06,"e":0.03},{"s":"B6","x":4.8,"y":0.06,"e":0.03},{"s":"B6","x":4.9,"y":0.07,"e":0.03},{"s":"B6","x":5,"y":0.09,"e":0.03},{"s":"B6","x":5.1,"y":0.12,"e":0.06},{"s":"B6","x":5.2,"y":0.18,"e":0.06},{"s":"B6","x":5.3,"y":0.22,"e":0.06},{"s":"B6","x":5.4,"y":0.25,"e":0.06},{"s":"B6","x":5.5,"y":0.3,"e":0.09},{"s":"B6","x":5.6,"y":0.38,"e":0.09},{"s":"B6","x":5.7,"y":0.45,"e":0.09},{"s":"B6","x":5.8,"y":0.4,"e":0.09},{"s":"B6","x":5.9,"y":0.47,"e":0.09},{"s":"B6","x":6,"y":0.42,"e":0.09}
]
},
"hconcat":[
{
"width":272,"height":200,
"title":{"text":"(a)","orient":"bottom","frame":"bounds","anchor":"middle","font":"Liberation Serif","fontSize":16,"fontWeight":"normal","offset":12,"color":"black"},
"layer":[
{"data":{"name":"a"},"mark":{"type":"errorband","opacity":0.35},
"encoding":{
"x":{"field":"x","type":"quantitative","scale":{"domain":[0,6],"nice":false,"zero":false},"axis":{"values":[0,1,2,3,4,5,6],"tickCount":12,"format":"d","labelOverlap":false,"title":"Number of experienced transitions N","titlePadding":6}},
"y":{"field":"y","type":"quantitative","scale":{"domain":[0,1],"nice":false},"axis":{"values":[0,0.2,0.4,0.6,0.8,1],"tickCount":12,"format":".1f","labelOverlap":false,"title":["Success Rate Averaged over Agents","and Initial Configurations"],"titlePadding":3}},
"yError":{"field":"e"},
"color":{"field":"s","type":"nominal","scale":{"domain":["E1","E5","E10","Fi","F1","F5","F10"],"range":["#1f77b4","#ff7f0e","#2ca02c","#d62728","#9467bd","#8c564b","#e377c2"]},
"legend":{"orient":"top-left","offset":5,"symbolSize":220,"rowPadding":2,"columnPadding":24,"labelExpr":"{'E1':'HER Ep 1','E5':'HER Ep 5','E10':'HER Ep 10','Fi':'HER Fi','F1':'HER Fu 1','F5':'HER Fu 5','F10':'HER Fu 10'}[datum.label]"}}
}},
{"data":{"name":"a"},"mark":{"type":"line","strokeWidth":1.5},
"encoding":{
"x":{"field":"x","type":"quantitative"},
"y":{"field":"y","type":"quantitative"},
"color":{"field":"s","type":"nominal"}
}},
{"data":{"values":[{}]},"mark":{"type":"text","align":"right","baseline":"top","dy":17,"fontSize":9.5,"color":"#111"},
"encoding":{"x":{"datum":6},"y":{"datum":0},"text":{"value":"1e6"}}}
]
},
{
"width":273,"height":200,
"title":{"text":"(b)","orient":"bottom","frame":"bounds","anchor":"middle","font":"Liberation Serif","fontSize":16,"fontWeight":"normal","offset":12,"color":"black"},
"layer":[
{"data":{"name":"b"},"mark":{"type":"errorband","opacity":0.35},
"encoding":{
"x":{"field":"x","type":"quantitative","scale":{"domain":[0,6],"nice":false,"zero":false},"axis":{"values":[0,1,2,3,4,5,6],"tickCount":12,"format":"d","labelOverlap":false,"title":"Number of experienced transitions N","titlePadding":6}},
"y":{"field":"y","type":"quantitative","scale":{"domain":[0,1],"nice":false},"axis":{"values":[0,0.2,0.4,0.6,0.8,1],"tickCount":12,"format":".1f","labelOverlap":false,"title":null}},
"yError":{"field":"e"},
"color":{"field":"s","type":"nominal","scale":{"domain":["B1","B2","B3","B4","B5","B6"],"range":["#1f77b4","#ff7f0e","#2ca02c","#d62728","#9467bd","#8c564b"]},
"legend":{"orient":"bottom-right","offset":4,"symbolSize":300,"rowPadding":2,"columnPadding":12,"labelOffset":6,"labelExpr":"{'B1':'L2E Sᵇⁱᵃˢ₁,₁₀₀₀','B2':'L2E Sᵇⁱᵃˢ₁₀,₁₀₀₀','B3':'L2E Sᵇⁱᵃˢ₁₀₀,₁₀₀₀','B4':'L2E Sᵇⁱᵃˢ₁₀,₁₀₀','B5':'L2E Sᵇⁱᵃˢ₁₀,₁₀₀₀₀','B6':'L2E Sᵘⁿⁱ₁₀₀₀'}[datum.label]"}}
}},
{"data":{"name":"b"},"mark":{"type":"line","strokeWidth":1.5},
"encoding":{
"x":{"field":"x","type":"quantitative"},
"y":{"field":"y","type":"quantitative"},
"color":{"field":"s","type":"nominal"}
}},
{"data":{"values":[{}]},"mark":{"type":"text","align":"right","baseline":"top","dy":17,"fontSize":9.5,"color":"#111"},
"encoding":{"x":{"datum":6},"y":{"datum":0},"text":{"value":"1e6"}}}
]
}
]
}
